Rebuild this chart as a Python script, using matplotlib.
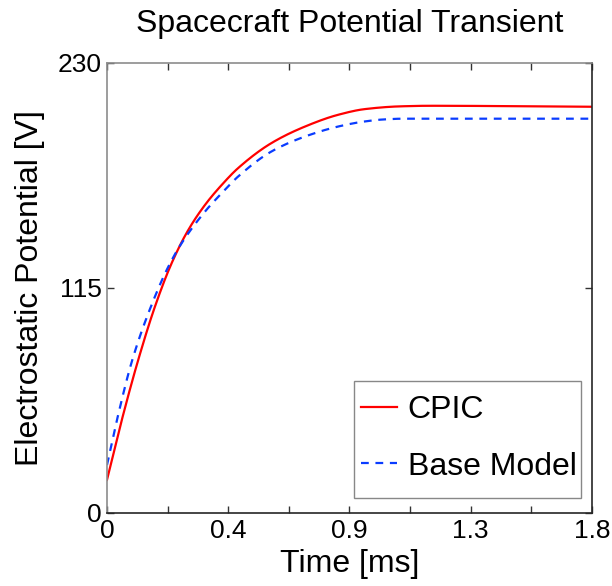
import matplotlib
matplotlib.use("Agg")
import matplotlib.pyplot as plt
from matplotlib.patches import Rectangle
import numpy as np

plt.rcParams['font.family'] = ['Liberation Sans', 'DejaVu Sans']

# values (time in ms, potential in V)
t_cpic = [0.0, 0.055, 0.116, 0.178, 0.24, 0.302, 0.364, 0.426, 0.487, 0.611,
          0.735, 0.858, 0.957, 1.087, 1.2, 1.4, 1.6, 1.8]
v_cpic = [16.9, 47.5, 78.2, 105.4, 127.6, 144.6, 157.4, 167.6, 176.2, 189.0,
          197.4, 203.4, 206.3, 207.7, 208.0, 207.9, 207.7, 207.5]

t_base = [0.0, 0.037, 0.094, 0.163, 0.228, 0.277, 0.364, 0.426, 0.487, 0.611,
          0.735, 0.858, 0.957, 1.025, 1.1, 1.4, 1.8]
v_base = [24.5, 47.5, 78.2, 105.4, 125.9, 137.8, 154.0, 163.4, 171.9, 184.7,
          192.3, 197.4, 200.0, 201.0, 201.4, 201.4, 201.4]

xticks = [0, 0.225, 0.45, 0.675, 0.9, 1.125, 1.35, 1.575, 1.8]
xticklabels = ['0', '', '0.4', '', '0.9', '', '1.3', '', '1.8']
yticks = [0, 115, 230]


def smooth(t, v):
    # piecewise cubic Hermite (Fritsch-Carlson) through the read points
    t = np.asarray(t, dtype=float)
    v = np.asarray(v, dtype=float)
    tt = np.linspace(t[0], t[-1], 500)
    h = np.diff(t)
    d = np.diff(v) / h
    m = np.zeros_like(v)
    m[0] = d[0]
    m[-1] = d[-1]
    for k in range(1, len(v) - 1):
        if d[k - 1] * d[k] <= 0:
            m[k] = 0
        else:
            w1 = 2 * h[k] + h[k - 1]
            w2 = h[k] + 2 * h[k - 1]
            m[k] = (w1 + w2) / (w1 / d[k - 1] + w2 / d[k])
    idx = np.clip(np.searchsorted(t, tt) - 1, 0, len(t) - 2)
    s = (tt - t[idx]) / h[idx]
    h00 = 2 * s**3 - 3 * s**2 + 1
    h10 = s**3 - 2 * s**2 + s
    h01 = -2 * s**3 + 3 * s**2
    h11 = s**3 - s**2
    vv = (h00 * v[idx] + h10 * h[idx] * m[idx]
          + h01 * v[idx + 1] + h11 * h[idx] * m[idx + 1])
    return tt, vv


fig = plt.figure(figsize=(6.12, 5.86), dpi=100)
ax = fig.add_axes([0.1748, 0.1246, 0.7925, 0.7684])

x1, y1 = smooth(t_cpic, v_cpic)
x2, y2 = smooth(t_base, v_base)
ax.plot(x1, y1, color='#ff0000', lw=1.6, label='CPIC')
ax.plot(x2, y2, color='#0a3cff', lw=1.6, ls=(0, (3.5, 3)), label='Base Model')

ax.set_xlim(0, 1.8)
ax.set_ylim(0, 230)
ax.set_xticks(xticks)
ax.set_xticklabels(xticklabels)
ax.set_yticks(yticks)
ax.set_yticklabels([str(v) for v in yticks])
ax.tick_params(direction='in', length=5, width=1, top=True, right=True,
               labelsize=19, pad=4, color='#333333')

for side in ['left', 'top']:
    ax.spines[side].set_color('#8c8c8c')
for side in ['bottom', 'right']:
    ax.spines[side].set_color('#262626')
for s in ax.spines.values():
    s.set_linewidth(1.2)

ax.set_xlabel('Time [ms]', fontsize=23, labelpad=5)
ax.set_ylabel('Electrostatic Potential [V]', fontsize=23, labelpad=9)
ax.set_title('Spacecraft Potential Transient', fontsize=23, pad=22)

# legend box drawn by hand (MATLAB-like padding), entries without frame
box = Rectangle((0.51, 0.033), 0.467, 0.26, transform=ax.transAxes,
                facecolor='white', edgecolor='#888888', lw=1.0, zorder=4)
ax.add_patch(box)
leg = ax.legend(loc='center', bbox_to_anchor=(0.746, 0.1656),
                borderaxespad=0, fontsize=23, handlelength=1.13,
                handletextpad=0.34, labelspacing=0.82, frameon=False,
                borderpad=0)
leg.set_zorder(5)

fig.savefig('out.png', dpi=100)
